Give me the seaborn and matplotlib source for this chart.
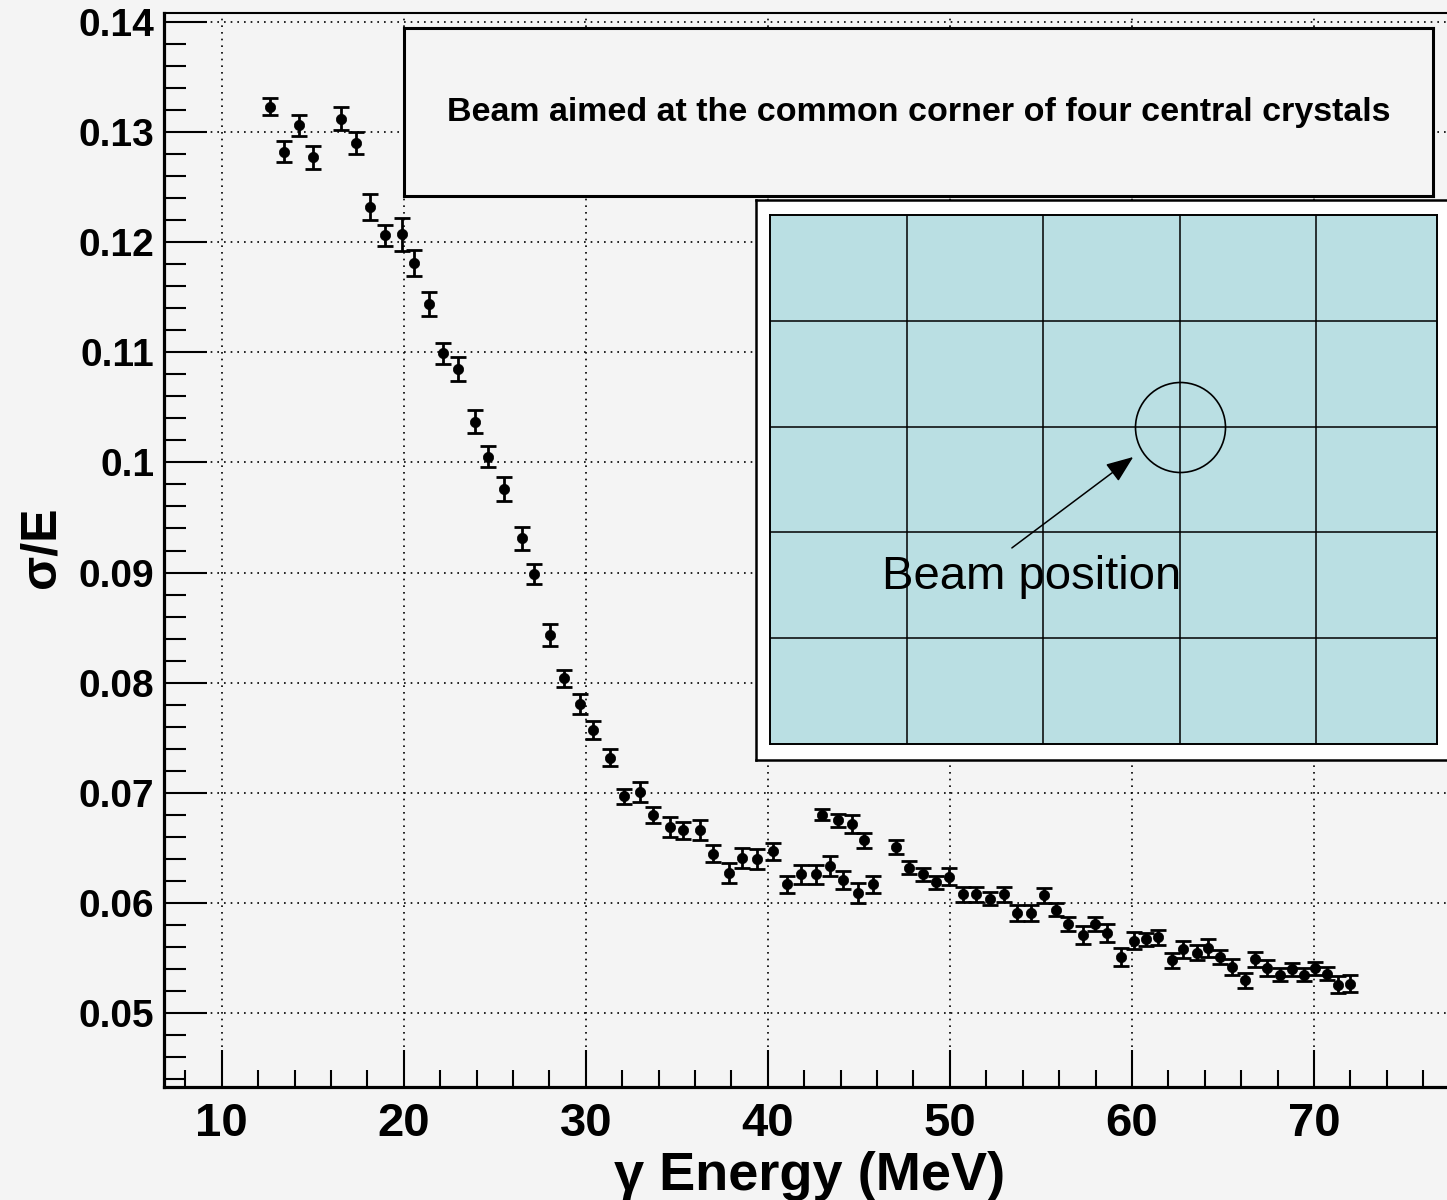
import numpy as np
import matplotlib
matplotlib.use("Agg")
import matplotlib.pyplot as plt
import seaborn as sns
from matplotlib.ticker import MultipleLocator, FuncFormatter

# gamma energy (MeV), resolution sigma/E and its error
energy = [12.67, 13.42, 14.23, 15.02, 16.54, 17.35, 18.17, 18.97, 19.89, 20.59,
          21.36, 22.16, 22.98, 23.90, 24.63, 25.51, 26.47, 27.16, 28.06, 28.79,
          29.67, 30.40, 31.32, 32.09, 33.00, 33.70, 34.65, 35.35, 36.26, 37.00,
          37.87, 38.60, 39.41, 40.29, 41.03, 41.80, 42.64, 43.00, 43.41, 43.86,
          44.14, 44.60, 44.96, 45.27, 45.75, 47.03, 47.76, 48.50, 49.23, 49.96,
          50.70, 51.45, 52.20, 53.00, 53.66, 54.43, 55.18, 55.82, 56.50, 57.29,
          57.97, 58.64, 59.38, 60.13, 60.77, 61.45, 62.18, 62.82, 63.58, 64.19,
          64.84, 65.48, 66.21, 66.76, 67.40, 68.13, 68.77, 69.47, 70.05, 70.70,
          71.33, 71.98]
resolution = [0.1323, 0.1282, 0.1306, 0.1277, 0.1312, 0.1290, 0.1232, 0.1206, 0.1207, 0.1181,
              0.1144, 0.1099, 0.1085, 0.1037, 0.1005, 0.0976, 0.0931, 0.0899, 0.0843, 0.0804,
              0.0781, 0.0757, 0.0732, 0.0697, 0.0701, 0.0680, 0.0669, 0.0666, 0.0666, 0.0645,
              0.0627, 0.0641, 0.0640, 0.0647, 0.0617, 0.0626, 0.0626, 0.0680, 0.0634, 0.0675,
              0.0621, 0.0672, 0.0609, 0.0657, 0.0617, 0.0651, 0.0632, 0.0626, 0.0619, 0.0624,
              0.0608, 0.0608, 0.0604, 0.0608, 0.0591, 0.0591, 0.0607, 0.0594, 0.0581, 0.0571,
              0.0581, 0.0573, 0.0551, 0.0566, 0.0567, 0.0569, 0.0548, 0.0558, 0.0555, 0.0559,
              0.0551, 0.0542, 0.0530, 0.0549, 0.0541, 0.0535, 0.0540, 0.0535, 0.0541, 0.0536,
              0.0526, 0.0527]
res_err = [0.00075, 0.00095, 0.00097, 0.00106, 0.00106, 0.0010, 0.0012, 0.00095, 0.00150, 0.0012,
           0.0011, 0.00098, 0.00108, 0.00102, 0.00095, 0.00106, 0.00106, 0.0009, 0.0010, 0.0008,
           0.0009, 0.00083, 0.0008, 0.00066, 0.0009, 0.00075, 0.0009, 0.0008, 0.0009, 0.0008,
           0.0009, 0.0009, 0.0009, 0.0008, 0.0008, 0.0009, 0.0009, 0.0005, 0.0009, 0.0006,
           0.0008, 0.0008, 0.0009, 0.0007, 0.0008, 0.0006, 0.0006, 0.0006, 0.0006, 0.0008,
           0.0007, 0.0007, 0.0006, 0.0007, 0.0007, 0.0007, 0.0007, 0.0006, 0.0006, 0.0008,
           0.0006, 0.0008, 0.0008, 0.0008, 0.0006, 0.0007, 0.0007, 0.0008, 0.0007, 0.0008,
           0.0006, 0.0007, 0.0007, 0.0007, 0.0007, 0.0006, 0.0006, 0.0006, 0.0006, 0.0006,
           0.0008, 0.0008]

title_text = "Beam aimed at the common corner of four central crystals"
inset_text = "Beam position"

bg = "#f4f4f4"
cyan = "#badfe3"

sns.set_theme(style="ticks")
plt.rcParams["font.family"] = ["Liberation Sans", "DejaVu Sans"]
plt.rcParams["text.color"] = "black"
plt.rcParams["axes.labelcolor"] = "black"
plt.rcParams["xtick.color"] = "black"
plt.rcParams["ytick.color"] = "black"

W, H = 1447, 1200
fig = plt.figure(figsize=(W / 100, H / 100), dpi=100, facecolor=bg)

def px_box(x0, y0, x1, y1):
    # pixel box (from top-left) -> figure fraction rect
    return [x0 / W, (H - y1) / H, (x1 - x0) / W, (y1 - y0) / H]

ax = fig.add_axes(px_box(164, 13.3, 1496, 1087))
ax.set_facecolor(bg)

ax.errorbar(energy, resolution, yerr=res_err, fmt="none", ecolor="black",
            elinewidth=2, capsize=5.5, capthick=2, zorder=3)
sns.scatterplot(x=energy, y=resolution, ax=ax, color="black", s=55,
                edgecolor="black", linewidth=0.5, zorder=4)

ax.set_xlim(6.83, 80)
ax.set_ylim(0.04331, 0.14076)
ax.xaxis.set_major_locator(MultipleLocator(10))
ax.xaxis.set_minor_locator(MultipleLocator(2))
ax.yaxis.set_major_locator(MultipleLocator(0.01))
ax.yaxis.set_minor_locator(MultipleLocator(0.002))
ax.yaxis.set_major_formatter(FuncFormatter(lambda v, p: f"{v:g}"))
ax.xaxis.set_major_formatter(FuncFormatter(lambda v, p: f"{v:g}" if v < 75 else ""))

ax.tick_params(axis="x", which="major", direction="in", length=27, width=1.5,
               labelsize=34, pad=11, colors="black")
ax.tick_params(axis="x", which="minor", direction="in", length=12, width=1.5, colors="black")
ax.tick_params(axis="y", which="major", direction="in", length=31, width=1.5,
               labelsize=28, pad=7, colors="black")
ax.tick_params(axis="y", which="minor", direction="in", length=16, width=1.5, colors="black")
for lab in ax.get_xticklabels() + ax.get_yticklabels():
    lab.set_fontweight("bold")

ax.grid(which="major", color="black", linestyle=(0, (1, 3)), linewidth=1.2)
ax.spines["left"].set_linewidth(2.3)
ax.spines["bottom"].set_linewidth(2.3)
ax.spines["top"].set_linewidth(1.5)
ax.spines["right"].set_visible(False)
for s in ax.spines.values():
    s.set_color("black")
ax.set_xlabel("")
ax.set_ylabel("")

fig.text(810 / W, (H - 1190) / H, "\u03b3 Energy (MeV)", ha="center", va="baseline",
         fontsize=39, fontweight="bold")
fig.text(41 / W, (H - 547) / H, "\u03c3/E", ha="center", va="center",
         rotation=90, fontsize=36, fontweight="bold")

# title box
tax = fig.add_axes(px_box(404, 28, 1433, 196))
tax.set_facecolor(bg)
tax.set_xticks([])
tax.set_yticks([])
for s in tax.spines.values():
    s.set_linewidth(2.2)
    s.set_color("black")
tax.text(0.5, 0.5, title_text, ha="center", va="center", fontsize=24.5,
         fontweight="bold", transform=tax.transAxes)

# inset picture: white frame and crystal grid
wax = fig.add_axes(px_box(755.8, 200.4, 1470, 759.7))
wax.set_facecolor("white")
wax.set_xticks([])
wax.set_yticks([])
for s in wax.spines.values():
    s.set_linewidth(1.8)
    s.set_color("black")

gax = fig.add_axes(px_box(770, 215, 1437, 743.8))
gax.set_facecolor(cyan)
gax.set_xlim(0, (1437 - 770) / 136.5)
gax.set_ylim(0, 5)
gax.set_xticks([1, 2, 3, 4])
gax.set_yticks([1, 2, 3, 4])
gax.tick_params(length=0, labelbottom=False, labelleft=False)
gax.grid(True, color="black", linewidth=1.1, linestyle="-")
for s in gax.spines.values():
    s.set_linewidth(1.4)
    s.set_color("black")
gax.plot([3], [3], marker="o", markersize=64.8, markerfacecolor="none",
         markeredgecolor="black", markeredgewidth=1.2)
gax.annotate("", xy=(2.661, 2.712), xytext=(1.772, 1.852),
             arrowprops=dict(arrowstyle="-|>,head_length=1.4,head_width=0.55",
                             color="black", lw=1.1, shrinkA=0, shrinkB=0))
gax.text(0.82, 1.465, inset_text, ha="left", va="baseline", fontsize=34)

fig.savefig("out.png", dpi=100, facecolor=bg)
